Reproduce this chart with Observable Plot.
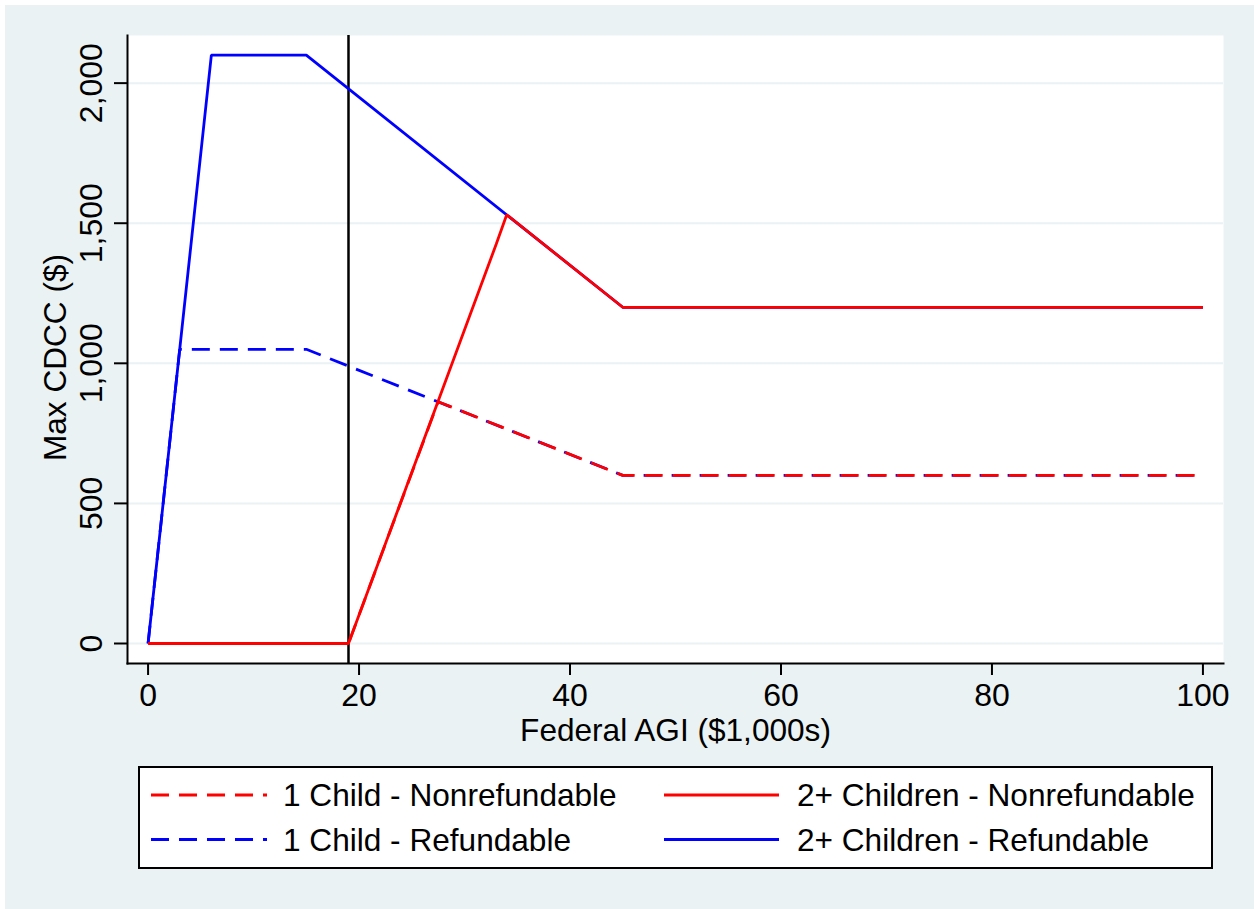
<!DOCTYPE html>
<html><head><meta charset="utf-8">
<script src="https://cdn.jsdelivr.net/npm/d3@7"></script>
<script src="https://cdn.jsdelivr.net/npm/@observablehq/plot@0.6"></script>
<style>
body{margin:0;background:#fff;width:1254px;height:909px;position:relative;overflow:hidden;font-family:"Liberation Sans",Arial,sans-serif;}
#bg{position:absolute;left:5px;top:5px;width:1249px;height:904px;background:#EAF2F3;}
#chart{position:absolute;left:0;top:0;}
#legend{position:absolute;left:138px;top:766px;width:1071px;height:99px;border:2px solid #000;background:#fff;}
#legend svg{display:block;}
</style></head><body>
<div id="bg"></div><div id="chart"></div><div id="legend"></div>
<script>
// ---- data ----
const xTicks = [0, 20, 40, 60, 80, 100];
const yTicks = [0, 500, 1000, 1500, 2000];
const xTitle = "Federal AGI ($1,000s)";
const yTitle = "Max CDCC ($)";
const seriesNames = ["1 Child - Nonrefundable", "2+ Children - Nonrefundable", "1 Child - Refundable", "2+ Children - Refundable"];
const oneChildNonrefAGI    = [0, 19, 27.5, 45, 100];
const oneChildNonrefCredit = [0, 0, 863, 600, 600];
const twoChildNonrefAGI    = [0, 19, 33, 34, 45, 100];
const twoChildNonrefCredit = [0, 0, 1425, 1530, 1200, 1200];
const oneChildRefAGI       = [0, 3, 15, 45, 100];
const oneChildRefCredit    = [0, 1050, 1050, 600, 600];
const twoChildRefAGI       = [0, 6, 15, 45, 100];
const twoChildRefCredit    = [0, 2100, 2100, 1200, 1200];
const policyAGI = [19];

// ---- build table ----
function rows(name, xs, ys){ return xs.map((x,i)=>({series:name, agi:x, credit:ys[i]})); }
const data = {
  "1 Child - Nonrefundable": rows(seriesNames[0], oneChildNonrefAGI, oneChildNonrefCredit),
  "2+ Children - Nonrefundable": rows(seriesNames[1], twoChildNonrefAGI, twoChildNonrefCredit),
  "1 Child - Refundable": rows(seriesNames[2], oneChildRefAGI, oneChildRefCredit),
  "2+ Children - Refundable": rows(seriesNames[3], twoChildRefAGI, twoChildRefCredit)
};
const style = {
  "1 Child - Nonrefundable": {color:"#FF0000", dash:"18,10", offset:21},
  "2+ Children - Nonrefundable": {color:"#FF0000", dash:null, offset:0},
  "1 Child - Refundable": {color:"#0000FF", dash:"18,10", offset:0},
  "2+ Children - Refundable": {color:"#0000FF", dash:null, offset:0}
};
const drawOrder = ["1 Child - Refundable", "2+ Children - Refundable", "1 Child - Nonrefundable", "2+ Children - Nonrefundable"];
const font = "'Liberation Sans', Arial, sans-serif";

const lineMarks = drawOrder.map(name => Plot.line(data[name], {
  x: "agi", y: "credit", stroke: style[name].color, strokeWidth: 2.8,
  strokeDasharray: style[name].dash || undefined, strokeDashoffset: style[name].offset,
  strokeLinecap: "butt", strokeLinejoin: "miter"
}));

const chart = Plot.plot({
  width: 1254, height: 760,
  marginLeft: 127, marginRight: 31, marginTop: 35, marginBottom: 97,
  style: {background: "transparent", fontFamily: font, fontSize: "32px", color: "#000"},
  x: {domain: [-1.95, 101.95]},
  y: {domain: [-71.4, 2170]},
  marks: [
    Plot.frame({fill: "#fff", stroke: null}),
    Plot.gridY(yTicks, {stroke: "#EAF2F3", strokeOpacity: 1, strokeWidth: 2}),
    Plot.ruleX(policyAGI, {stroke: "#000", strokeWidth: 2.5}),
    ...lineMarks,
    Plot.frame({anchor: "left", stroke: "#000", strokeWidth: 2}),
    Plot.frame({anchor: "bottom", stroke: "#000", strokeWidth: 2}),
    Plot.axisX(xTicks, {tickSize: 12, tickPadding: 8, fontSize: 32, label: null, strokeWidth: 2, tickFormat: d => d}),
    Plot.axisY(yTicks, {tickSize: 13, tickPadding: 13, tickRotate: -90, textAnchor: "middle", lineAnchor: "bottom",
      fontSize: 32, label: null, strokeWidth: 2, tickFormat: d3.format(",")}),
    Plot.text([xTitle], {text: d => d, frameAnchor: "bottom", dy: 77, lineAnchor: "bottom", fontSize: 31.6, fill: "#000"}),
    Plot.text([yTitle], {text: d => d, frameAnchor: "left", dx: -62, dy: 8, rotate: -90, lineAnchor: "bottom",
      textAnchor: "middle", fontSize: 31.6, fill: "#000"})
  ]
});
document.getElementById("chart").appendChild(chart);

// ---- legend ----
const legendLayout = [
  {name: seriesNames[0], x0: 11, x1: 127, tx: 143, y: 27},
  {name: seriesNames[1], x0: 524, x1: 639, tx: 657, y: 27},
  {name: seriesNames[2], x0: 11, x1: 127, tx: 143, y: 71.5},
  {name: seriesNames[3], x0: 524, x1: 639, tx: 657, y: 71.5}
];
const lsvg = d3.create("svg").attr("width", 1071).attr("height", 99);
for (const item of legendLayout) {
  const s = style[item.name];
  lsvg.append("line").attr("x1", item.x0).attr("x2", item.x1).attr("y1", item.y).attr("y2", item.y)
    .attr("stroke", s.color).attr("stroke-width", 2.8).attr("stroke-dasharray", s.dash).attr("stroke-linecap", "butt");
  lsvg.append("text").attr("x", item.tx).attr("y", item.y + 11).attr("font-family", font).attr("font-size", 31.6)
    .attr("fill", "#000").text(item.name);
}
document.getElementById("legend").appendChild(lsvg.node());
</script>
</body></html>
